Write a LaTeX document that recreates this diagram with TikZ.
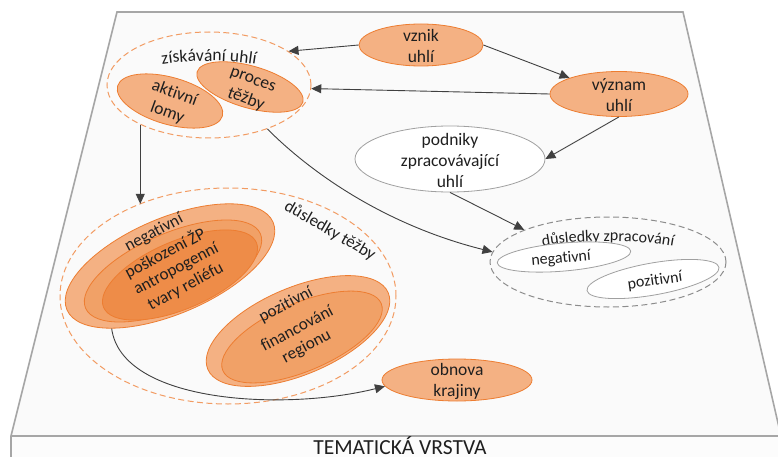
\documentclass[tikz,border=0pt]{standalone}
\usepackage{fontspec}
\setmainfont{Carlito}[Ligatures={NoCommon,NoContextual}]
\usetikzlibrary{shapes.geometric,arrows.meta,decorations.text}

\definecolor{orlight}{HTML}{F4B183}
\definecolor{ormid}{HTML}{F1A167}
\definecolor{ordark}{HTML}{EE8C48}
\definecolor{oredge}{HTML}{ED7D31}
\definecolor{ordash}{HTML}{F29B62}
\definecolor{slab}{HTML}{A6A6A6}
\definecolor{ink}{HTML}{1F1F1F}
\definecolor{wire}{HTML}{404040}
\definecolor{thin}{HTML}{A0A0A0}
\definecolor{dashgray}{HTML}{8C8C8C}

\begin{document}
\begin{tikzpicture}[x=1pt,y=-1pt,
  lbl/.style={text=ink, align=center, inner sep=0pt, font=\fontsize{17.5}{21}\selectfont},
  lblsmall/.style={text=ink, align=center, inner sep=0pt, font=\fontsize{16}{19}\selectfont},
  lblgroup/.style={text=ink, align=center, inner sep=0pt, font=\fontsize{17}{20}\selectfont},
  blob/.style={ellipse, draw=oredge, line width=0.8pt, inner sep=0pt},
  whiteblob/.style={ellipse, draw=thin, fill=white, line width=0.8pt, inner sep=0pt},
  orangeset/.style={ellipse, draw=ordash, dash pattern=on 6pt off 3.5pt, line width=1pt, inner sep=0pt},
  grayset/.style={ellipse, draw=dashgray, dash pattern=on 6pt off 3.5pt, line width=1pt, inner sep=0pt},
  conn/.style={draw=wire, line width=0.9pt, -{Triangle[length=10pt,width=9pt]}},
]
\useasboundingbox (0,0) rectangle (778,457);

% layer slab: top face and front face
\fill[white!98!black] (117,12) -- (683,12) -- (781,436) -- (11,436) -- cycle;
\fill[white!99!black] (11,436) rectangle (781,457);
\draw[slab, line width=1.6pt] (11,457) -- (11,436) -- (117,12) -- (683,12) -- (781,436);
\draw[slab, line width=1.6pt] (11,436) -- (781,436);
\node[text=ink, anchor=base, inner sep=0pt, font=\fontsize{21.5}{24}\selectfont] (layer) at (400,454.5) {TEMATICKÁ VRSTVA};

% origin and meaning of coal
\node[blob, fill=orlight, minimum width=124pt, minimum height=42pt] (vznik) at (421,45) {};
\node[lbl] (vznik-t) at (421,46) {vznik\\uhlí};
\node[blob, fill=orlight, minimum width=138pt, minimum height=45pt] (vyznam) at (619,94) {};
\node[lbl] (vyznam-t) at (619,95) {význam\\uhlí};

% mining
\node[orangeset, minimum width=204pt, minimum height=106pt] (zisk) at (209,85) {};
\path[decorate, decoration={text along path, text align=center,
  text={|\fontsize{17.5}{21}\selectfont\color{ink}|získávání uhlí}}]
  (209,88) ++(205:95 and 27) arc[start angle=205, end angle=335, x radius=95, y radius=27];
\node[blob, fill=orlight, minimum width=109pt, minimum height=47pt, rotate=-16] (aktivni) at (170,101) {};
\node[lbl, rotate=-20] (aktivni-t) at (171,103) {aktivní\\lomy};
\node[blob, fill=orlight, minimum width=110pt, minimum height=42pt, rotate=-16] (proces) at (250,87) {};
\node[lbl, rotate=-20] (proces-t) at (249,91) {proces\\těžby};

% processing companies
\node[whiteblob, minimum width=190pt, minimum height=66pt] (podniky) at (450,159) {};
\node[lbl] (podniky-t) at (450,160) {podniky\\zpracovávající\\uhlí};

% consequences of processing
\node[grayset, minimum width=236pt, minimum height=90pt] (dzp) at (608,262) {};
\path[decorate, decoration={text along path, text align=center,
  text={|\fontsize{16}{19}\selectfont\color{ink}|důsledky zpracování}}]
  (608,268) ++(200:110 and 27) arc[start angle=200, end angle=340, x radius=110, y radius=27];
\node[whiteblob, minimum width=134pt, minimum height=28pt, rotate=5] (dzpneg) at (564,257) {};
\node[lblsmall, rotate=5] (dzpneg-t) at (561,259) {negativní};
\node[whiteblob, minimum width=134pt, minimum height=32pt, rotate=10] (dzppoz) at (653,279) {};
\node[lblsmall, rotate=8] (dzppoz-t) at (655,281) {pozitivní};

% consequences of mining
\node[orangeset, minimum width=336pt, minimum height=216pt] (dtez) at (228,296) {};
\node[lblgroup, rotate=-30] (dtez-t) at (330,231) {důsledky těžby};

\node[blob, fill=orlight, minimum width=224pt, minimum height=96pt, rotate=23] (negout) at (170,266) {};
\node[blob, fill=ormid, minimum width=190pt, minimum height=76pt, rotate=23] (negmid) at (173,271) {};
\node[blob, fill=ordark, minimum width=166pt, minimum height=68pt, rotate=23] (neginn) at (180,275) {};
\node[lblgroup, rotate=28] (negout-t) at (154,233) {negativní};
\node[lblgroup, rotate=28] (negmid-t) at (165,253) {poškození ŽP};
\node[lblgroup, rotate=28] (neginn-t) at (181,278) {antropogenní\\tvary reliéfu};

\node[blob, fill=orlight, minimum width=196pt, minimum height=87pt, rotate=23] (pozout) at (298,331) {};
\node[blob, fill=ormid, minimum width=172pt, minimum height=68pt, rotate=23] (pozinn) at (302,337) {};
\node[lblgroup, rotate=28] (pozout-t) at (286,305) {pozitivní};
\node[lblgroup, rotate=28] (pozinn-t) at (302,338) {financování\\regionu};

% landscape restoration
\node[blob, fill=orlight, minimum width=150pt, minimum height=42pt] (obnova) at (457,380) {};
\node[lbl] (obnova-t) at (457,381) {obnova\\krajiny};

% connectors
\draw[conn] (vznik.west) -- (zisk.23);
\draw[conn] (vznik.east) -- (vyznam.162);
\draw[conn] (vyznam.west) -- (zisk.-2);
\draw[conn] (vyznam.south) -- (podniky.east);
\draw[conn] (podniky.south) -- (dzp.159);
\draw[conn] (zisk.-37) .. controls +(50,50) and +(-100,-25) .. (dzp.175);
\draw[conn] (zisk.210) -- (zisk.210 |- dtez.134);
\draw[conn] (negout.204) .. controls +(10,75) and +(-100,25) .. (obnova.185);
\end{tikzpicture}
\end{document}
